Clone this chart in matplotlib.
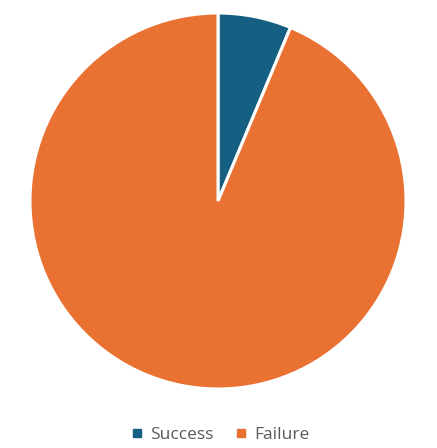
import matplotlib.pyplot as plt
from matplotlib.lines import Line2D

labels = ['Success', 'Failure']
values = [6.3, 93.7]
colors = ['#156082', '#E97132']

fig = plt.figure(figsize=(4.37, 4.48), dpi=100)
ax = fig.add_axes([30 / 437, (448 - 201 - 188) / 448, 376 / 437, 376 / 448])
ax.pie(values, colors=colors, startangle=90, counterclock=False,
       wedgeprops=dict(edgecolor='white', linewidth=2.2))
ax.set_xlim(-1, 1)
ax.set_ylim(-1, 1)
ax.set_aspect('equal')

handles = [Line2D([], [], marker='s', linestyle='', markersize=6,
                  markerfacecolor=c, markeredgecolor=c) for c in colors]
fig.legend(handles, labels, loc='center', bbox_to_anchor=(0.5, 13 / 448),
           ncol=2, frameon=False, handletextpad=0.2, handlelength=1.1,
           columnspacing=1.0,
           prop=dict(family='Open Sans', size=12.5), labelcolor='#595959')

fig.savefig('out.png', dpi=100)
